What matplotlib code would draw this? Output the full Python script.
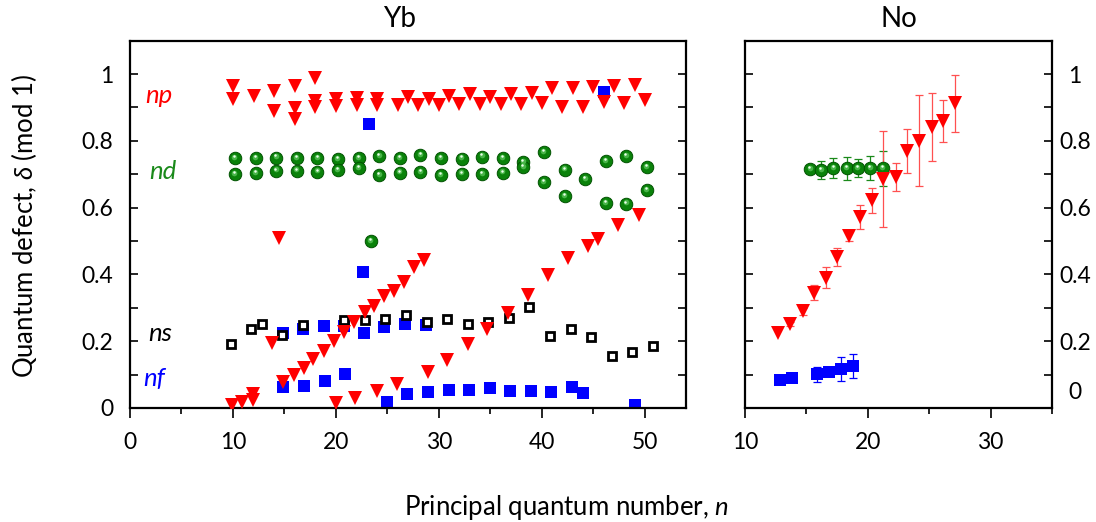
import numpy as np
import matplotlib
matplotlib.use('Agg')
import matplotlib.pyplot as plt
from matplotlib.ticker import FixedLocator, FuncFormatter
from matplotlib.transforms import offset_copy

plt.rcParams['font.family'] = ['Lato', 'DejaVu Sans']
plt.rcParams['mathtext.fontset'] = 'custom'
plt.rcParams['mathtext.it'] = 'Lato:italic'
plt.rcParams['mathtext.rm'] = 'Lato'

# ---------------- Yb data ----------------
# np (red triangles) - upper rows near 0.9-1.0
yb_np_hi_x = [10, 10, 12, 14, 14, 16, 16, 16, 18, 18, 18, 20, 20, 22, 22, 24, 24,
              26, 27, 28, 29, 30, 31, 32, 33, 34, 35, 36, 37, 38, 39, 40, 41, 42, 43,
              44, 45, 46, 47, 48, 49, 50]
yb_np_hi_y = [0.964, 0.926, 0.935, 0.948, 0.888, 0.965, 0.897, 0.865, 0.987, 0.920, 0.900,
              0.924, 0.904, 0.929, 0.907, 0.926, 0.907,
              0.907, 0.932, 0.907, 0.925, 0.907, 0.935, 0.910, 0.939, 0.911, 0.930, 0.911,
              0.939, 0.911, 0.944, 0.912, 0.957, 0.902, 0.958, 0.902, 0.962, 0.917, 0.964,
              0.912, 0.966, 0.922]
# np - low / wrapped series
yb_np_lo_x = [9.9, 10.9, 11.9, 11.9, 13.8, 14.5,
              14.9, 15.9, 16.9, 17.8, 18.8, 19.8, 20.8, 21.8, 22.8, 23.7, 24.7, 25.6, 26.6, 27.6, 28.6,
              20.0, 21.9, 24.0, 25.9, 28.9, 30.8, 32.8, 34.7, 36.7, 38.7, 40.6, 42.5, 44.5, 45.5, 47.4, 49.4]
yb_np_lo_y = [0.010, 0.017, 0.041, 0.025, 0.194, 0.510,
              0.078, 0.100, 0.121, 0.147, 0.172, 0.200, 0.228, 0.257, 0.287, 0.304, 0.334, 0.350, 0.376, 0.422, 0.444,
              0.015, 0.031, 0.051, 0.073, 0.108, 0.143, 0.193, 0.236, 0.284, 0.338, 0.397, 0.448, 0.484, 0.505, 0.548, 0.579]

# nd (green spheres)
yb_nd_x = [10.2, 10.2, 12.2, 12.2, 14.2, 14.2, 16.2, 16.2, 18.2, 18.2, 20.2, 20.2, 22.2, 22.2,
           24.2, 24.2, 26.2, 26.2, 28.2, 28.2, 30.2, 30.2, 32.2, 32.2, 34.2, 34.2, 36.2, 36.2,
           38.2, 38.2, 40.2, 40.2, 42.2, 42.2, 44.2, 46.2, 46.2, 48.2, 48.2, 50.2, 50.2, 23.4]
yb_nd_y = [0.748, 0.700, 0.748, 0.703, 0.750, 0.711, 0.748, 0.711, 0.748, 0.708, 0.746, 0.713,
           0.748, 0.718, 0.755, 0.698, 0.749, 0.705, 0.757, 0.707, 0.749, 0.697, 0.747, 0.702,
           0.753, 0.700, 0.749, 0.705, 0.736, 0.722, 0.767, 0.677, 0.714, 0.635, 0.685, 0.739,
           0.613, 0.755, 0.612, 0.722, 0.652, 0.499]

# ns (black open squares)
yb_ns_x = [9.8, 11.8, 12.8, 14.8, 16.8, 20.8, 22.8, 24.8, 26.8, 28.8, 30.8, 32.8, 34.8,
           36.8, 38.8, 40.8, 42.8, 44.8, 46.8, 48.8, 50.8]
yb_ns_y = [0.192, 0.237, 0.252, 0.220, 0.250, 0.263, 0.263, 0.268, 0.278, 0.258, 0.266,
           0.251, 0.259, 0.269, 0.302, 0.216, 0.237, 0.213, 0.156, 0.169, 0.186]

# nf (blue squares)
yb_nf_x = [14.9, 16.8, 18.8, 20.8, 22.7, 24.7, 26.7, 28.7, 22.6, 23.2, 46.0,
           14.9, 16.9, 18.9, 20.9, 25.0, 26.9, 28.9, 31.0, 32.95, 34.95, 36.95, 38.9,
           40.9, 42.9, 44.0, 49.0]
yb_nf_y = [0.225, 0.236, 0.245, 0.245, 0.225, 0.244, 0.253, 0.250, 0.407, 0.851, 0.946,
           0.063, 0.066, 0.081, 0.101, 0.019, 0.041, 0.049, 0.055, 0.053, 0.060, 0.050, 0.052,
           0.047, 0.062, 0.045, 0.009]

# ---------------- No data ----------------
no_nd_x = [15.3, 16.2, 17.2, 18.3, 19.2, 20.2, 21.2]
no_nd_y = [0.716, 0.713, 0.718, 0.718, 0.718, 0.718, 0.718]
no_nd_err = [0.0, 0.026, 0.030, 0.035, 0.027, 0.036, 0.053]

no_np_x = [12.7, 13.7, 14.7, 15.6, 16.6, 17.5, 18.5, 19.4, 20.35, 21.25, 22.3, 23.2,
           24.2, 25.2, 26.1, 27.1]
no_np_y = [0.225, 0.252, 0.290, 0.345, 0.390, 0.452, 0.514, 0.572, 0.622, 0.686, 0.692,
           0.771, 0.801, 0.841, 0.859, 0.912]
no_np_err = [0.0, 0.006, 0.010, 0.022, 0.032, 0.027, 0.015, 0.035, 0.038, 0.143, 0.042,
             0.066, 0.137, 0.101, 0.062, 0.086]

no_nf_x = [12.85, 13.85, 15.9, 16.85, 17.85, 18.8]
no_nf_y = [0.085, 0.091, 0.101, 0.108, 0.117, 0.126]
no_nf_err = [0.0, 0.0, 0.022, 0.010, 0.035, 0.037]

# ---------------- styling ----------------
RED = '#ff0000'
BLUE = '#0000ff'
GREEN = '#0a820a'
TICK_FS = 16.5
LABEL_FS = 18.5
TITLE_FS = 20
SER_FS = 18.5

fig = plt.figure(figsize=(10.96, 5.22), dpi=100)
ax1 = fig.add_axes([130 / 1096, 114 / 522, 556 / 1096, 367.3 / 522])
ax2 = fig.add_axes([745 / 1096, 114 / 522, 307 / 1096, 367.3 / 522])


def spheres(ax, x, y, ms=9.0, z=3):
    ax.plot(x, y, 'o', ls='none', ms=ms, color=GREEN, mec='#005200', mew=0.7, zorder=z)
    t1 = offset_copy(ax.transData, fig=fig, x=-0.4, y=0.9, units='points')
    ax.plot(x, y, 'o', ls='none', ms=ms * 0.45, color='#48b448', mew=0, transform=t1, zorder=z + 0.1)
    t2 = offset_copy(ax.transData, fig=fig, x=-0.6, y=1.5, units='points')
    ax.plot(x, y, 'o', ls='none', ms=ms * 0.2, color='#eaffea', mew=0, transform=t2, zorder=z + 0.2)


def errbars(ax, x, y, e, color):
    x = np.asarray(x); y = np.asarray(y); e = np.asarray(e)
    m = e > 0
    ax.errorbar(x[m], y[m], yerr=e[m], fmt='none', ecolor=color, elinewidth=0.9,
                capsize=3.2, capthick=0.9, zorder=2)


# ---- Yb panel ----
ax1.plot(yb_nf_x, yb_nf_y, 's', ls='none', ms=8, color=BLUE, mew=0, zorder=2)
spheres(ax1, yb_nd_x, yb_nd_y)
ax1.plot(yb_ns_x, yb_ns_y, 's', ls='none', ms=5.2, mfc='white', mec='black', mew=2.0, zorder=4)
ax1.plot(yb_np_hi_x, yb_np_hi_y, 'v', ls='none', ms=10, color=RED, mew=0, zorder=5)
ax1.plot(yb_np_lo_x, yb_np_lo_y, 'v', ls='none', ms=10, color=RED, mew=0, zorder=5)

ax1.text(1.45, 0.913, 'np', color=RED, fontsize=SER_FS, style='italic', va='baseline')
ax1.text(1.84, 0.686, 'nd', color='#1a8a1a', fontsize=SER_FS, style='italic', va='baseline')
ax1.text(1.75, 0.200, 'ns', color='black', fontsize=SER_FS, style='italic', va='baseline')
ax1.text(1.26, 0.066, 'nf', color=BLUE, fontsize=SER_FS, style='italic', va='baseline')

ax1.set_xlim(0, 54)
ax1.set_ylim(0, 1.1)

# ---- No panel ----
errbars(ax2, no_nf_x, no_nf_y, no_nf_err, BLUE)
errbars(ax2, no_nd_x, no_nd_y, no_nd_err, '#1a8a1a')
errbars(ax2, no_np_x, no_np_y, no_np_err, '#ff5050')
ax2.plot(no_nf_x, no_nf_y, 's', ls='none', ms=8.2, color=BLUE, mew=0, zorder=3)
spheres(ax2, no_nd_x, no_nd_y, z=3)
ax2.plot(no_np_x, no_np_y, 'v', ls='none', ms=10.5, color=RED, mew=0, zorder=5)

ax2.set_xlim(10, 35)
ax2.set_ylim(0, 1.1)

# ---- axes styling ----
ylab_fmt = FuncFormatter(lambda v, p: '0' if abs(v) < 1e-9 else ('1' if abs(v - 1) < 1e-9 else f'{v:.1f}'))
for ax in (ax1, ax2):
    for s in ax.spines.values():
        s.set_linewidth(1.6)
    ax.yaxis.set_major_locator(FixedLocator([0, 0.2, 0.4, 0.6, 0.8, 1.0]))
    ax.yaxis.set_minor_locator(FixedLocator([0.1, 0.3, 0.5, 0.7, 0.9]))
    ax.yaxis.set_major_formatter(ylab_fmt)
    ax.tick_params(axis='y', which='both', direction='in', length=6, width=1.2,
                   left=True, right=True, labelsize=TICK_FS)
    ax.tick_params(axis='x', which='major', direction='out', length=7, width=1.2,
                   labelsize=TICK_FS, pad=10, top=False)
    ax.tick_params(axis='x', which='minor', direction='out', length=4, width=1.2, top=False)

ax1.xaxis.set_major_locator(FixedLocator([0, 10, 20, 30, 40, 50]))
ax1.xaxis.set_minor_locator(FixedLocator([5, 15, 25, 35, 45]))
ax1.tick_params(axis='y', labelleft=True, labelright=False, pad=12)

ax2.xaxis.set_major_locator(FixedLocator([10, 20, 30]))
ax2.xaxis.set_minor_locator(FixedLocator([15, 25, 35]))
ax2.yaxis.set_major_locator(FixedLocator([0.2, 0.4, 0.6, 0.8, 1.0]))
ax2.yaxis.set_minor_locator(FixedLocator([0.0, 0.1, 0.3, 0.5, 0.7, 0.9]))
ax2.tick_params(axis='y', labelleft=False, labelright=True, pad=16.5)
for lbl in ax2.get_yticklabels():
    lbl.set_horizontalalignment('center')
ax2.text(1.075, 0.046, '0', transform=ax2.get_yaxis_transform(), ha='center', va='center',
         fontsize=TICK_FS)

# titles and labels
fig.text(400 / 1096, (522 - 27) / 522, 'Yb', ha='center', va='baseline', fontsize=TITLE_FS)
fig.text(898.5 / 1096, (522 - 27) / 522, 'No', ha='center', va='baseline', fontsize=TITLE_FS)
fig.text(567 / 1096, 7 / 522, 'Principal quantum number, $n$', ha='center', va='baseline',
         fontsize=LABEL_FS)
fig.text(24 / 1096, 1 - 226 / 522, r'Quantum defect, $\delta$ (mod 1)', rotation=90,
         ha='center', va='center', fontsize=LABEL_FS)

fig.savefig('out.png', dpi=100)
